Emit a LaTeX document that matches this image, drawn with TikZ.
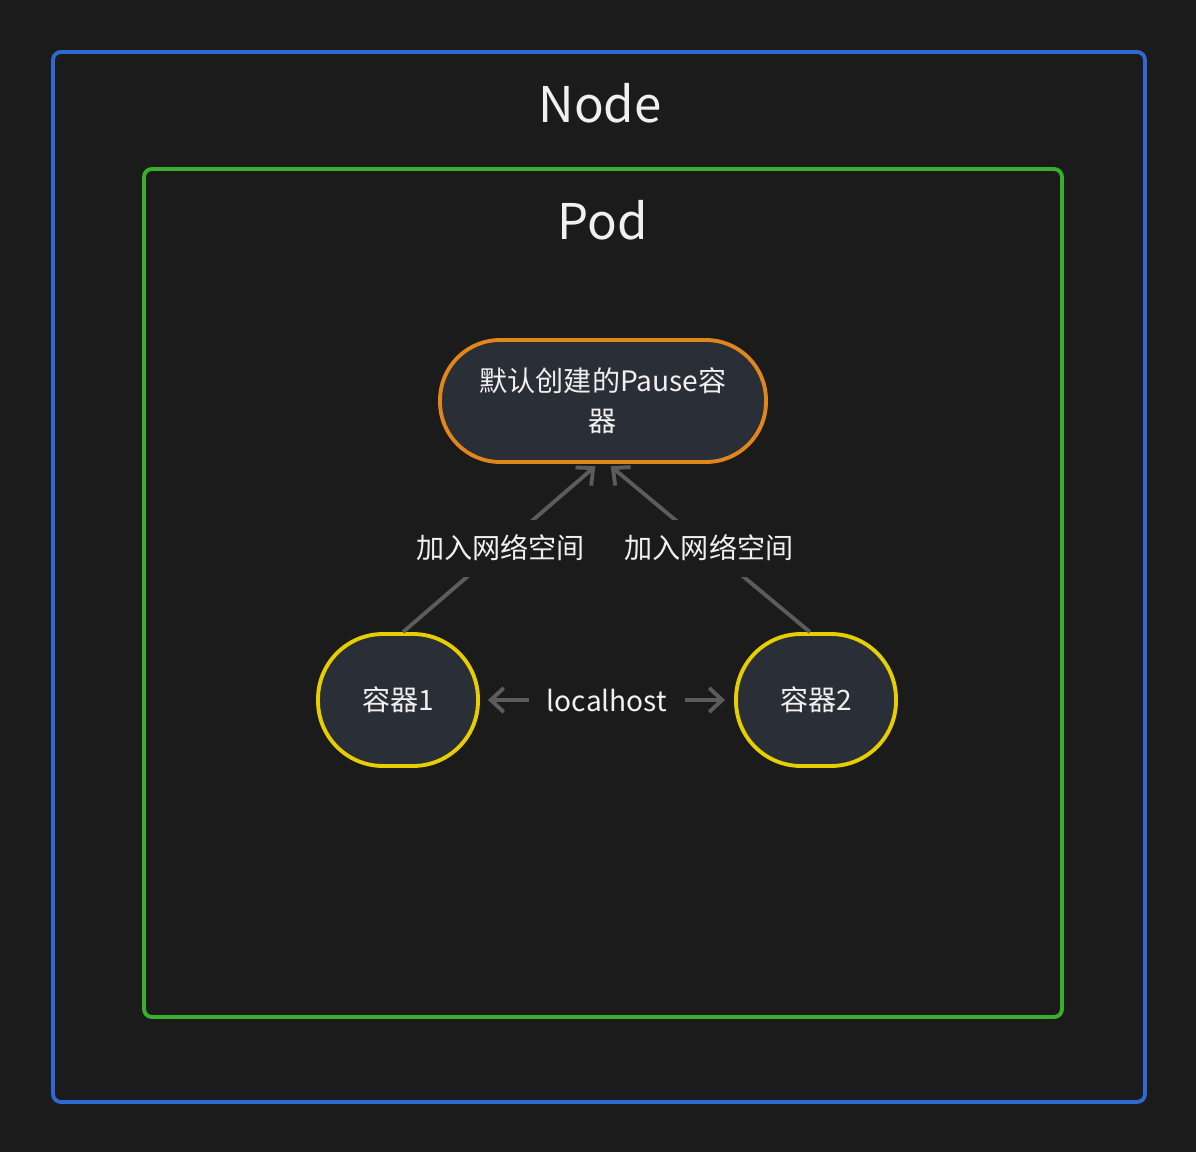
\documentclass[tikz,border=0pt]{standalone}
\usepackage{fontspec}
\setmainfont{Noto Sans CJK SC}
\usetikzlibrary{arrows.meta}
\definecolor{bg}{HTML}{1B1B1B}
\definecolor{nodeblue}{HTML}{2F69CF}
\definecolor{podgreen}{HTML}{3CAE2D}
\definecolor{pauseorange}{HTML}{E0861A}
\definecolor{ctryellow}{HTML}{E6CE00}
\definecolor{ctrfill}{HTML}{2A2F37}
\definecolor{linkgray}{HTML}{5C5C5C}
\definecolor{txt}{HTML}{F0F0F0}
\begin{document}
\begin{tikzpicture}[x=0.02cm, y=-0.02cm, >={Straight Barb[length=2.6mm,width=4.8mm]},
  frame/.style={line width=2.2pt, rounded corners=0.16cm},
  title/.style={text=txt, font=\fontsize{28}{32}\selectfont},
  ctr/.style={draw=ctryellow, fill=ctrfill, line width=2.2pt, rounded corners=1.3cm,
    minimum width=3.2cm, minimum height=2.64cm, text=txt, font=\fontsize{16}{19}\selectfont},
  link/.style={draw=linkgray, line width=2.2pt},
  tag/.style={fill=bg, text=txt, font=\fontsize{16}{19}\selectfont, inner xsep=0.35cm,
    inner ysep=0pt, minimum height=1.14cm}]
\useasboundingbox (0,0) rectangle (1196,1152);
\fill[bg] (0,0) rectangle (1196,1152);

\draw[frame, nodeblue] (53,52) rectangle (1145,1102);
\node[title] (nodetitle) at (600,103) {Node};
\draw[frame, podgreen] (144,169) rectangle (1062,1017);
\node[title] (podtitle) at (603,220) {Pod};

\node[ctr, draw=pauseorange, minimum width=6.52cm, minimum height=2.44cm, rounded corners=1.2cm,
  align=center, font=\fontsize{16}{23}\selectfont] (pause) at (603,401) {默认创建的Pause容\\器};
\node[ctr] (c1) at (398,700) {容器1};
\node[ctr] (c2) at (816,700) {容器2};

% join the pause container's network
\draw[link, ->, shorten >=2pt] ([xshift=0.1cm]c1.north) -- ([xshift=-0.1cm]pause.south)
  node[tag, midway] (join1) {加入网络空间};
\draw[link, ->, shorten >=2pt] ([xshift=-0.12cm]c2.north) -- ([xshift=0.1cm]pause.south)
  node[tag, midway] (join2) {加入网络空间};
\draw[link, <->, shorten <=0.16cm, shorten >=0.18cm] (c1) -- (c2)
  node[tag, midway] (lh) {localhost};
\end{tikzpicture}
\end{document}
